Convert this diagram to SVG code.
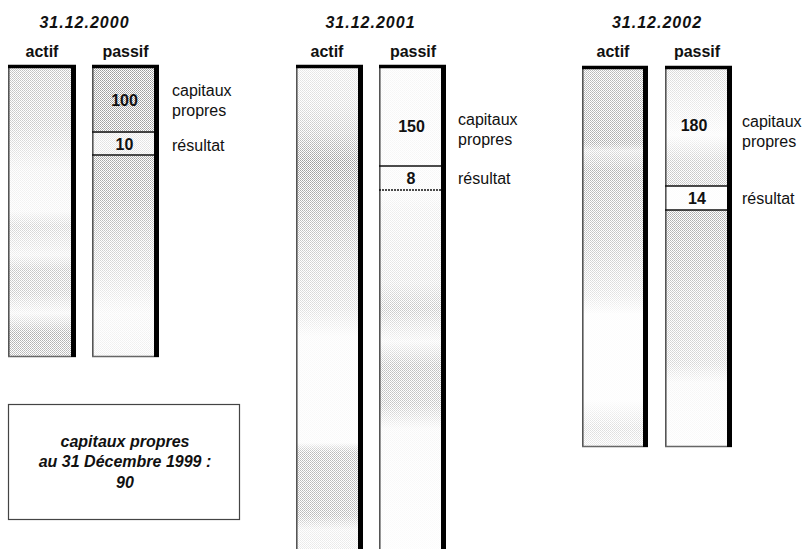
<svg xmlns="http://www.w3.org/2000/svg" width="808" height="549" viewBox="0 0 808 549">
<style>
text{font-family:"Liberation Sans",Arial,sans-serif;fill:#111;font-size:16px}
.title{font-weight:bold;font-style:italic;letter-spacing:1px;text-anchor:middle}
.head{font-weight:bold;text-anchor:middle}
.num{font-weight:bold;text-anchor:middle}
.lab{font-weight:normal}
.box{font-weight:bold;font-style:italic;text-anchor:middle}
.top{stroke:#000;stroke-width:3.5}
.right{stroke:#000;stroke-width:5}
.left{stroke:#555;stroke-width:1.6}
.bot{stroke:#666;stroke-width:1.6}
.div{stroke:#111;stroke-width:1.4}
</style>
<defs>
<pattern id="dots" width="2" height="2" patternUnits="userSpaceOnUse">
<rect x="0" y="0" width="1" height="1" fill="#8a8a8a"/>
<rect x="1" y="1" width="1" height="1" fill="#a0a0a0"/>
</pattern>
<linearGradient id="g1a" x1="0" y1="0" x2="0" y2="1">
<stop offset="0" stop-color="#fff" stop-opacity="0.55"/>
<stop offset="0.2" stop-color="#fff" stop-opacity="0.45"/>
<stop offset="0.35" stop-color="#fff" stop-opacity="0.15"/>
<stop offset="0.5" stop-color="#fff" stop-opacity="0.1"/>
<stop offset="0.55" stop-color="#fff" stop-opacity="0.4"/>
<stop offset="0.65" stop-color="#fff" stop-opacity="0.15"/>
<stop offset="0.7" stop-color="#fff" stop-opacity="0.5"/>
<stop offset="0.78" stop-color="#fff" stop-opacity="0.45"/>
<stop offset="0.85" stop-color="#fff" stop-opacity="0.1"/>
<stop offset="0.92" stop-color="#fff" stop-opacity="0.7"/>
<stop offset="1" stop-color="#fff" stop-opacity="0.6"/>
</linearGradient>
<linearGradient id="g1p" x1="0" y1="0" x2="0" y2="1">
<stop offset="0" stop-color="#fff" stop-opacity="0.85"/>
<stop offset="0.23" stop-color="#fff" stop-opacity="0.8"/>
<stop offset="0.23" stop-color="#fff" stop-opacity="0.25"/>
<stop offset="0.31" stop-color="#fff" stop-opacity="0.25"/>
<stop offset="0.31" stop-color="#fff" stop-opacity="0.75"/>
<stop offset="0.45" stop-color="#fff" stop-opacity="0.7"/>
<stop offset="0.6" stop-color="#fff" stop-opacity="0.45"/>
<stop offset="0.72" stop-color="#fff" stop-opacity="0.3"/>
<stop offset="0.85" stop-color="#fff" stop-opacity="0.08"/>
<stop offset="1" stop-color="#fff" stop-opacity="0.15"/>
</linearGradient>
<linearGradient id="g2a" x1="0" y1="0" x2="0" y2="1">
<stop offset="0" stop-color="#fff" stop-opacity="0.2"/>
<stop offset="0.08" stop-color="#fff" stop-opacity="0.3"/>
<stop offset="0.14" stop-color="#fff" stop-opacity="0.5"/>
<stop offset="0.2" stop-color="#fff" stop-opacity="0.85"/>
<stop offset="0.27" stop-color="#fff" stop-opacity="0.7"/>
<stop offset="0.4" stop-color="#fff" stop-opacity="0.4"/>
<stop offset="0.5" stop-color="#fff" stop-opacity="0.3"/>
<stop offset="0.56" stop-color="#fff" stop-opacity="0.05"/>
<stop offset="0.78" stop-color="#fff" stop-opacity="0.05"/>
<stop offset="0.8" stop-color="#fff" stop-opacity="0.6"/>
<stop offset="0.93" stop-color="#fff" stop-opacity="0.6"/>
<stop offset="0.96" stop-color="#fff" stop-opacity="0.15"/>
<stop offset="1" stop-color="#fff" stop-opacity="0.2"/>
</linearGradient>
<linearGradient id="g2p" x1="0" y1="0" x2="0" y2="1">
<stop offset="0" stop-color="#fff" stop-opacity="0.08"/>
<stop offset="0.26" stop-color="#fff" stop-opacity="0.08"/>
<stop offset="0.3" stop-color="#fff" stop-opacity="0.15"/>
<stop offset="0.45" stop-color="#fff" stop-opacity="0.25"/>
<stop offset="0.5" stop-color="#fff" stop-opacity="0.5"/>
<stop offset="0.57" stop-color="#fff" stop-opacity="0.1"/>
<stop offset="0.62" stop-color="#fff" stop-opacity="0.55"/>
<stop offset="0.7" stop-color="#fff" stop-opacity="0.5"/>
<stop offset="0.75" stop-color="#fff" stop-opacity="0.08"/>
<stop offset="1" stop-color="#fff" stop-opacity="0.03"/>
</linearGradient>
<linearGradient id="g3a" x1="0" y1="0" x2="0" y2="1">
<stop offset="0" stop-color="#fff" stop-opacity="0.6"/>
<stop offset="0.2" stop-color="#fff" stop-opacity="0.7"/>
<stop offset="0.22" stop-color="#fff" stop-opacity="0.3"/>
<stop offset="0.27" stop-color="#fff" stop-opacity="0.65"/>
<stop offset="0.45" stop-color="#fff" stop-opacity="0.5"/>
<stop offset="0.6" stop-color="#fff" stop-opacity="0.25"/>
<stop offset="0.65" stop-color="#fff" stop-opacity="0.03"/>
<stop offset="0.88" stop-color="#fff" stop-opacity="0.03"/>
<stop offset="0.95" stop-color="#fff" stop-opacity="0.3"/>
<stop offset="1" stop-color="#fff" stop-opacity="0.2"/>
</linearGradient>
<linearGradient id="g3p" x1="0" y1="0" x2="0" y2="1">
<stop offset="0" stop-color="#fff" stop-opacity="0.35"/>
<stop offset="0.1" stop-color="#fff" stop-opacity="0.2"/>
<stop offset="0.18" stop-color="#fff" stop-opacity="0.05"/>
<stop offset="0.25" stop-color="#fff" stop-opacity="0.45"/>
<stop offset="0.313" stop-color="#fff" stop-opacity="0.5"/>
<stop offset="0.313" stop-color="#fff" stop-opacity="0.03"/>
<stop offset="0.376" stop-color="#fff" stop-opacity="0.03"/>
<stop offset="0.376" stop-color="#fff" stop-opacity="0.7"/>
<stop offset="0.5" stop-color="#fff" stop-opacity="0.6"/>
<stop offset="0.62" stop-color="#fff" stop-opacity="0.45"/>
<stop offset="0.78" stop-color="#fff" stop-opacity="0.35"/>
<stop offset="0.83" stop-color="#fff" stop-opacity="0.08"/>
<stop offset="1" stop-color="#fff" stop-opacity="0.05"/>
</linearGradient>
<mask id="m1a" maskUnits="userSpaceOnUse" x="0" y="0" width="808" height="549"><rect x="9" y="66" width="64" height="291" fill="url(#g1a)"/></mask>
<mask id="m1p" maskUnits="userSpaceOnUse" x="0" y="0" width="808" height="549"><rect x="93" y="66" width="64" height="291" fill="url(#g1p)"/></mask>
<mask id="m2a" maskUnits="userSpaceOnUse" x="0" y="0" width="808" height="549"><rect x="297" y="66" width="64" height="483" fill="url(#g2a)"/></mask>
<mask id="m2p" maskUnits="userSpaceOnUse" x="0" y="0" width="808" height="549"><rect x="380" y="66" width="64" height="483" fill="url(#g2p)"/></mask>
<mask id="m3a" maskUnits="userSpaceOnUse" x="0" y="0" width="808" height="549"><rect x="583" y="67" width="63" height="380" fill="url(#g3a)"/></mask>
<mask id="m3p" maskUnits="userSpaceOnUse" x="0" y="0" width="808" height="549"><rect x="666" y="67" width="64" height="380" fill="url(#g3p)"/></mask>
</defs>
<rect width="808" height="549" fill="#fff"/>

<g id="bilan-2000">
<text class="title" x="84.5" y="28">31.12.2000</text>
<g id="actif-2000">
<text class="head" x="42" y="57">actif</text>
<rect x="9" y="66" width="64" height="291" fill="url(#dots)" mask="url(#m1a)"/>
<line class="left" x1="8.8" y1="65" x2="8.8" y2="357"/>
<line class="bot" x1="8" y1="356.5" x2="76" y2="356.5"/>
<line class="top" x1="8" y1="66.5" x2="76" y2="66.5"/>
<line class="right" x1="73.5" y1="65" x2="73.5" y2="357"/>
</g>
<g id="passif-2000">
<text class="head" x="125.5" y="57">passif</text>
<rect x="93" y="66" width="64" height="291" fill="url(#dots)" mask="url(#m1p)"/>
<line class="left" x1="92.8" y1="65" x2="92.8" y2="357"/>
<line class="bot" x1="92" y1="356.5" x2="159" y2="356.5"/>
<line class="div" x1="92" y1="132" x2="156" y2="132"/>
<line class="div" x1="92" y1="155" x2="156" y2="155"/>
<line class="top" x1="92" y1="66.5" x2="159" y2="66.5"/>
<line class="right" x1="156.5" y1="65" x2="156.5" y2="357"/>
<text class="num" x="124.5" y="106">100</text>
<text class="num" x="124.5" y="150">10</text>
<text class="lab" x="172" y="96">capitaux</text>
<text class="lab" x="172" y="116">propres</text>
<text class="lab" x="172" y="151">résultat</text>
</g>
</g>

<g id="bilan-2001">
<text class="title" x="370.5" y="28">31.12.2001</text>
<g id="actif-2001">
<text class="head" x="327" y="57">actif</text>
<rect x="297" y="66" width="64" height="483" fill="url(#dots)" mask="url(#m2a)"/>
<line class="left" x1="296.8" y1="65" x2="296.8" y2="549"/>
<line class="top" x1="296" y1="66.5" x2="363" y2="66.5"/>
<line class="right" x1="360.5" y1="65" x2="360.5" y2="549"/>
</g>
<g id="passif-2001">
<text class="head" x="413" y="57">passif</text>
<rect x="380" y="66" width="64" height="483" fill="url(#dots)" mask="url(#m2p)"/>
<line class="left" x1="379.8" y1="65" x2="379.8" y2="549"/>
<line class="div" x1="379" y1="166" x2="443" y2="166"/>
<line class="div" x1="379" y1="190" x2="443" y2="190" stroke-dasharray="2 1"/>
<line class="top" x1="379" y1="66.5" x2="446" y2="66.5"/>
<line class="right" x1="443.5" y1="65" x2="443.5" y2="549"/>
<text class="num" x="411.5" y="132">150</text>
<text class="num" x="411" y="184">8</text>
<text class="lab" x="458" y="125">capitaux</text>
<text class="lab" x="458" y="145">propres</text>
<text class="lab" x="458" y="184">résultat</text>
</g>
</g>

<g id="bilan-2002">
<text class="title" x="657" y="28">31.12.2002</text>
<g id="actif-2002">
<text class="head" x="613" y="57">actif</text>
<rect x="583" y="67" width="63" height="380" fill="url(#dots)" mask="url(#m3a)"/>
<line class="left" x1="582.8" y1="66" x2="582.8" y2="447"/>
<line class="bot" x1="582" y1="446.5" x2="648" y2="446.5"/>
<line class="top" x1="582" y1="67.5" x2="648" y2="67.5"/>
<line class="right" x1="645.5" y1="66" x2="645.5" y2="447"/>
</g>
<g id="passif-2002">
<text class="head" x="697" y="57">passif</text>
<rect x="666" y="67" width="64" height="380" fill="url(#dots)" mask="url(#m3p)"/>
<line class="left" x1="665.8" y1="66" x2="665.8" y2="447"/>
<line class="bot" x1="665" y1="446.5" x2="732" y2="446.5"/>
<line class="div" x1="665" y1="186" x2="729" y2="186"/>
<line class="div" x1="665" y1="210" x2="729" y2="210"/>
<line class="top" x1="665" y1="67.5" x2="732" y2="67.5"/>
<line class="right" x1="729.5" y1="66" x2="729.5" y2="447"/>
<text class="num" x="694" y="131">180</text>
<text class="num" x="697" y="204">14</text>
<text class="lab" x="742" y="127">capitaux</text>
<text class="lab" x="742" y="147">propres</text>
<text class="lab" x="742" y="204">résultat</text>
</g>
</g>

<g id="note-1999">
<rect x="8.5" y="404.5" width="231" height="115" fill="none" stroke="#444" stroke-width="1.2"/>
<text class="box" x="125" y="447">capitaux propres</text>
<text class="box" x="125" y="467">au 31 Décembre 1999 :</text>
<text class="box" x="125" y="488">90</text>
</g>
<g id="connectors"/>
</svg>
